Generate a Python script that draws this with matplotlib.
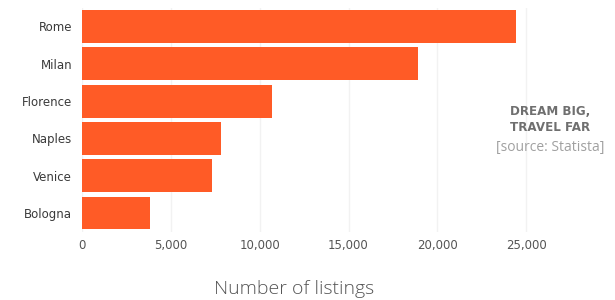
import numpy as np
import matplotlib
matplotlib.use('Agg')
import matplotlib.pyplot as plt

cities = ['Rome', 'Milan', 'Florence', 'Naples', 'Venice', 'Bologna']
listings = [24400, 18900, 10700, 7800, 7300, 3800]
xticks = [0, 5000, 10000, 15000, 20000, 25000]

plt.rcParams['font.family'] = ['DejaVu Sans']

fig = plt.figure(figsize=(6.15, 3.0), dpi=100)
ax = fig.add_axes([0.1333, 0.2277, 0.7513, 0.7463])

y = np.arange(len(cities))
ax.barh(y, listings, height=0.88, color='#ff5b26', zorder=2)
ax.set_ylim(len(cities) - 0.5, -0.5)
ax.set_xlim(0, 26000)
ax.set_yticks(y)
ax.set_yticklabels(cities, fontsize=8.5, color='#3a3a3a')
ax.set_xticks(xticks)
ax.set_xticklabels(['{:,}'.format(v) for v in xticks], fontsize=8.5, color='#555555')
ax.tick_params(axis='x', length=0, pad=5)
ax.tick_params(axis='y', length=0, pad=7)
ax.grid(axis='x', color='#f2f2f2', linewidth=1, zorder=0)
for s in ax.spines.values():
    s.set_visible(False)

fig.text(294/615, 1 - 289/300, 'Number of listings', ha='center', va='center',
         fontsize=14, color='#555555', fontweight='light', family='Open Sans')
fig.text(550/615, 1 - 119/300, 'DREAM BIG,\nTRAVEL FAR', ha='center', va='center',
         fontsize=8.6, color='#6f6f6f', fontweight='bold', linespacing=1.3)
fig.text(550/615, 1 - 147/300, '[source: Statista]', ha='center', va='center',
         fontsize=10, color='#a0a0a0', family='Open Sans')

fig.savefig('out.png', dpi=100)
